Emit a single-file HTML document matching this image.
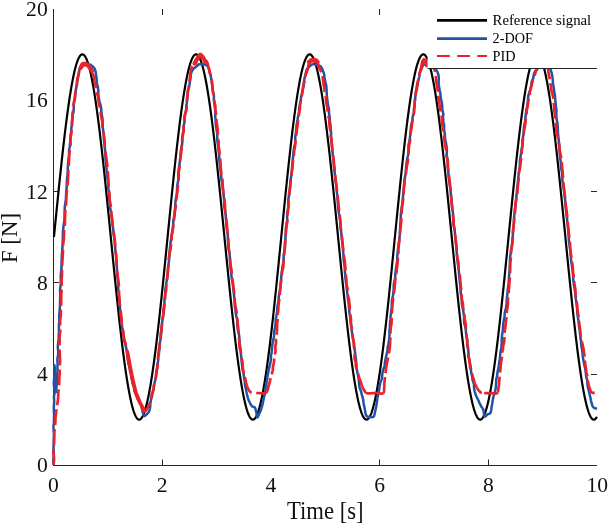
<!DOCTYPE html>
<html><head><meta charset="utf-8"><style>
html,body{margin:0;padding:0;background:#fff;}
svg{display:block;}
.tk{font-family:"Liberation Serif",serif;font-size:20px;fill:#111;}
.lb{font-family:"Liberation Serif",serif;font-size:24px;fill:#111;}
.lg{font-family:"Liberation Serif",serif;font-size:15px;fill:#000;}
</style></head><body>
<svg width="608" height="526" viewBox="0 0 608 526">
<rect width="608" height="526" fill="#fff"/>
<line x1="53.5" y1="9" x2="53.5" y2="466" stroke="#262626" stroke-width="1"/><line x1="53" y1="465.5" x2="597" y2="465.5" stroke="#262626" stroke-width="1"/><line x1="53" y1="374.5" x2="59" y2="374.5" stroke="#262626" stroke-width="1"/><line x1="591" y1="374.5" x2="597" y2="374.5" stroke="#262626" stroke-width="1"/><line x1="53" y1="282.5" x2="59" y2="282.5" stroke="#262626" stroke-width="1"/><line x1="591" y1="282.5" x2="597" y2="282.5" stroke="#262626" stroke-width="1"/><line x1="53" y1="191.5" x2="59" y2="191.5" stroke="#262626" stroke-width="1"/><line x1="591" y1="191.5" x2="597" y2="191.5" stroke="#262626" stroke-width="1"/><line x1="162.5" y1="459.5" x2="162.5" y2="465" stroke="#262626" stroke-width="1"/><line x1="162.5" y1="9" x2="162.5" y2="15" stroke="#262626" stroke-width="1"/><line x1="379.5" y1="459.5" x2="379.5" y2="465" stroke="#262626" stroke-width="1"/><line x1="379.5" y1="9" x2="379.5" y2="15" stroke="#262626" stroke-width="1"/><line x1="488.5" y1="459.5" x2="488.5" y2="465" stroke="#262626" stroke-width="1"/><line x1="488.5" y1="9" x2="488.5" y2="15" stroke="#262626" stroke-width="1"/>

<path d="M53.95,237.00 L54.45,231.95 L54.95,226.91 L55.45,221.87 L55.95,216.85 L56.45,211.84 L56.95,206.85 L57.45,201.88 L57.95,196.94 L58.45,192.03 L58.95,187.15 L59.45,182.32 L59.95,177.52 L60.45,172.77 L60.95,168.07 L61.45,163.42 L61.95,158.83 L62.45,154.30 L62.95,149.83 L63.45,145.43 L63.95,141.09 L64.45,136.83 L64.95,132.65 L65.45,128.55 L65.95,124.53 L66.45,120.59 L66.95,116.75 L67.45,112.99 L67.95,109.33 L68.45,105.77 L68.95,102.31 L69.45,98.95 L69.95,95.70 L70.45,92.56 L70.95,89.52 L71.45,86.60 L71.95,83.80 L72.45,81.11 L72.95,78.54 L73.45,76.09 L73.95,73.76 L74.45,71.56 L74.95,69.48 L75.45,67.54 L75.95,65.72 L76.45,64.03 L76.95,62.48 L77.45,61.05 L77.95,59.77 L78.45,58.62 L78.95,57.60 L79.45,56.72 L79.95,55.98 L80.45,55.38 L80.95,54.92 L81.45,54.59 L81.95,54.41 L82.45,54.36 L82.95,54.46 L83.45,54.69 L83.95,55.06 L84.45,55.57 L84.95,56.23 L85.45,57.01 L85.95,57.94 L86.45,59.00 L86.95,60.20 L87.45,61.54 L87.95,63.01 L88.45,64.61 L88.95,66.34 L89.45,68.20 L89.95,70.19 L90.45,72.31 L90.95,74.56 L91.45,76.93 L91.95,79.42 L92.45,82.03 L92.95,84.76 L93.45,87.61 L93.95,90.57 L94.45,93.65 L94.95,96.83 L95.45,100.12 L95.95,103.51 L96.45,107.01 L96.95,110.60 L97.45,114.30 L97.95,118.08 L98.45,121.96 L98.95,125.92 L99.45,129.97 L99.95,134.11 L100.45,138.32 L100.95,142.60 L101.45,146.96 L101.95,151.38 L102.45,155.88 L102.95,160.43 L103.45,165.04 L103.95,169.71 L104.45,174.43 L104.95,179.19 L105.45,184.01 L105.95,188.86 L106.45,193.74 L106.95,198.66 L107.45,203.62 L107.95,208.59 L108.45,213.59 L108.95,218.60 L109.45,223.63 L109.95,228.67 L110.45,233.72 L110.95,238.77 L111.45,243.81 L111.95,248.86 L112.45,253.89 L112.95,258.91 L113.45,263.91 L113.95,268.89 L114.45,273.85 L114.95,278.78 L115.45,283.68 L115.95,288.54 L116.45,293.37 L116.95,298.15 L117.45,302.88 L117.95,307.56 L118.45,312.19 L118.95,316.76 L119.45,321.27 L119.95,325.72 L120.45,330.10 L120.95,334.41 L121.45,338.64 L121.95,342.80 L122.45,346.87 L122.95,350.86 L123.45,354.76 L123.95,358.58 L124.45,362.30 L124.95,365.92 L125.45,369.45 L125.95,372.87 L126.45,376.20 L126.95,379.41 L127.45,382.52 L127.95,385.51 L128.45,388.39 L128.95,391.16 L129.45,393.81 L129.95,396.34 L130.45,398.74 L130.95,401.03 L131.45,403.18 L131.95,405.21 L132.45,407.12 L132.95,408.89 L133.45,410.53 L133.95,412.04 L134.45,413.41 L134.95,414.65 L135.45,415.75 L135.95,416.72 L136.45,417.55 L136.95,418.24 L137.45,418.80 L137.95,419.21 L138.45,419.49 L138.95,419.62 L139.45,419.62 L139.95,419.48 L140.45,419.20 L140.95,418.77 L141.45,418.21 L141.95,417.51 L142.45,416.68 L142.95,415.70 L143.45,414.59 L143.95,413.35 L144.45,411.96 L144.95,410.45 L145.45,408.80 L145.95,407.02 L146.45,405.11 L146.95,403.08 L147.45,400.91 L147.95,398.62 L148.45,396.21 L148.95,393.68 L149.45,391.02 L149.95,388.25 L150.45,385.36 L150.95,382.36 L151.45,379.25 L151.95,376.03 L152.45,372.71 L152.95,369.28 L153.45,365.74 L153.95,362.11 L154.45,358.39 L154.95,354.57 L155.45,350.66 L155.95,346.67 L156.45,342.59 L156.95,338.43 L157.45,334.19 L157.95,329.88 L158.45,325.50 L158.95,321.05 L159.45,316.54 L159.95,311.96 L160.45,307.33 L160.95,302.64 L161.45,297.91 L161.95,293.13 L162.45,288.30 L162.95,283.44 L163.45,278.54 L163.95,273.61 L164.45,268.65 L164.95,263.66 L165.45,258.66 L165.95,253.64 L166.45,248.60 L166.95,243.56 L167.45,238.51 L167.95,233.47 L168.45,228.42 L168.95,223.38 L169.45,218.35 L169.95,213.34 L170.45,208.34 L170.95,203.37 L171.45,198.42 L171.95,193.50 L172.45,188.61 L172.95,183.76 L173.45,178.96 L173.95,174.19 L174.45,169.47 L174.95,164.81 L175.45,160.20 L175.95,155.65 L176.45,151.16 L176.95,146.74 L177.45,142.38 L177.95,138.10 L178.45,133.90 L178.95,129.77 L179.45,125.72 L179.95,121.76 L180.45,117.89 L180.95,114.11 L181.45,110.42 L181.95,106.83 L182.45,103.34 L182.95,99.95 L183.45,96.67 L183.95,93.49 L184.45,90.42 L184.95,87.47 L185.45,84.63 L185.95,81.90 L186.45,79.29 L186.95,76.81 L187.45,74.44 L187.95,72.21 L188.45,70.09 L188.95,68.11 L189.45,66.25 L189.95,64.52 L190.45,62.93 L190.95,61.47 L191.45,60.14 L191.95,58.95 L192.45,57.89 L192.95,56.97 L193.45,56.19 L193.95,55.55 L194.45,55.04 L194.95,54.68 L195.45,54.45 L195.95,54.36 L196.45,54.41 L196.95,54.61 L197.45,54.94 L197.95,55.41 L198.45,56.02 L198.95,56.76 L199.45,57.65 L199.95,58.67 L200.45,59.83 L200.95,61.12 L201.45,62.55 L201.95,64.11 L202.45,65.81 L202.95,67.63 L203.45,69.58 L203.95,71.67 L204.45,73.87 L204.95,76.21 L205.45,78.66 L205.95,81.24 L206.45,83.93 L206.95,86.75 L207.45,89.67 L207.95,92.71 L208.45,95.86 L208.95,99.12 L209.45,102.48 L209.95,105.95 L210.45,109.52 L210.95,113.18 L211.45,116.94 L211.95,120.79 L212.45,124.73 L212.95,128.75 L213.45,132.86 L213.95,137.04 L214.45,141.31 L214.95,145.64 L215.45,150.05 L215.95,154.52 L216.45,159.06 L216.95,163.65 L217.45,168.30 L217.95,173.01 L218.45,177.76 L218.95,182.56 L219.45,187.40 L219.95,192.27 L220.45,197.19 L220.95,202.13 L221.45,207.10 L221.95,212.09 L222.45,217.10 L222.95,222.12 L223.45,227.16 L223.95,232.20 L224.45,237.25 L224.95,242.30 L225.45,247.34 L225.95,252.38 L226.45,257.40 L226.95,262.41 L227.45,267.40 L227.95,272.37 L228.45,277.31 L228.95,282.22 L229.45,287.09 L229.95,291.92 L230.45,296.72 L230.95,301.47 L231.45,306.16 L231.95,310.81 L232.45,315.40 L232.95,319.93 L233.45,324.39 L233.95,328.79 L234.45,333.12 L234.95,337.38 L235.45,341.56 L235.95,345.66 L236.45,349.67 L236.95,353.60 L237.45,357.44 L237.95,361.19 L238.45,364.85 L238.95,368.40 L239.45,371.86 L239.95,375.21 L240.45,378.46 L240.95,381.60 L241.45,384.63 L241.95,387.54 L242.45,390.34 L242.95,393.03 L243.45,395.59 L243.95,398.03 L244.45,400.35 L244.95,402.55 L245.45,404.62 L245.95,406.56 L246.45,408.37 L246.95,410.05 L247.45,411.60 L247.95,413.01 L248.45,414.29 L248.95,415.44 L249.45,416.45 L249.95,417.32 L250.45,418.05 L250.95,418.65 L251.45,419.10 L251.95,419.42 L252.45,419.60 L252.95,419.64 L253.45,419.54 L253.95,419.29 L254.45,418.91 L254.95,418.40 L255.45,417.74 L255.95,416.94 L256.45,416.01 L256.95,414.94 L257.45,413.73 L257.95,412.39 L258.45,410.92 L258.95,409.31 L259.45,407.57 L259.95,405.70 L260.45,403.70 L260.95,401.58 L261.45,399.32 L261.95,396.95 L262.45,394.45 L262.95,391.83 L263.45,389.10 L263.95,386.24 L264.45,383.28 L264.95,380.20 L265.45,377.01 L265.95,373.71 L266.45,370.31 L266.95,366.81 L267.45,363.21 L267.95,359.52 L268.45,355.73 L268.95,351.84 L269.45,347.88 L269.95,343.82 L270.45,339.69 L270.95,335.47 L271.45,331.18 L271.95,326.82 L272.45,322.39 L272.95,317.90 L273.45,313.34 L273.95,308.73 L274.45,304.06 L274.95,299.33 L275.45,294.57 L275.95,289.75 L276.45,284.90 L276.95,280.01 L277.45,275.09 L277.95,270.14 L278.45,265.16 L278.95,260.16 L279.45,255.15 L279.95,250.12 L280.45,245.08 L280.95,240.03 L281.45,234.98 L281.95,229.93 L282.45,224.89 L282.95,219.86 L283.45,214.84 L283.95,209.84 L284.45,204.86 L284.95,199.90 L285.45,194.97 L285.95,190.07 L286.45,185.21 L286.95,180.39 L287.45,175.62 L287.95,170.88 L288.45,166.20 L288.95,161.58 L289.45,157.01 L289.95,152.50 L290.45,148.06 L290.95,143.68 L291.45,139.38 L291.95,135.15 L292.45,131.00 L292.95,126.93 L293.45,122.94 L293.95,119.04 L294.45,115.23 L294.95,111.52 L295.45,107.90 L295.95,104.38 L296.45,100.96 L296.95,97.64 L297.45,94.43 L297.95,91.33 L298.45,88.34 L298.95,85.47 L299.45,82.71 L299.95,80.06 L300.45,77.54 L300.95,75.14 L301.45,72.86 L301.95,70.71 L302.45,68.69 L302.95,66.79 L303.45,65.03 L303.95,63.39 L304.45,61.89 L304.95,60.52 L305.45,59.29 L305.95,58.19 L306.45,57.23 L306.95,56.41 L307.45,55.72 L307.95,55.18 L308.45,54.77 L308.95,54.50 L309.45,54.37 L309.95,54.38 L310.45,54.53 L310.95,54.82 L311.45,55.25 L311.95,55.82 L312.45,56.52 L312.95,57.37 L313.45,58.35 L313.95,59.47 L314.45,60.72 L314.95,62.11 L315.45,63.63 L315.95,65.28 L316.45,67.07 L316.95,68.98 L317.45,71.03 L317.95,73.20 L318.45,75.49 L318.95,77.91 L319.45,80.45 L319.95,83.11 L320.45,85.89 L320.95,88.78 L321.45,91.79 L321.95,94.91 L322.45,98.13 L322.95,101.46 L323.45,104.90 L323.95,108.44 L324.45,112.07 L324.95,115.80 L325.45,119.62 L325.95,123.54 L326.45,127.53 L326.95,131.62 L327.45,135.78 L327.95,140.02 L328.45,144.34 L328.95,148.72 L329.45,153.17 L329.95,157.69 L330.45,162.27 L330.95,166.90 L331.45,171.59 L331.95,176.33 L332.45,181.11 L332.95,185.94 L333.45,190.81 L333.95,195.71 L334.45,200.64 L334.95,205.60 L335.45,210.59 L335.95,215.59 L336.45,220.61 L336.95,225.65 L337.45,230.69 L337.95,235.74 L338.45,240.79 L338.95,245.83 L339.45,250.87 L339.95,255.90 L340.45,260.91 L340.95,265.91 L341.45,270.88 L341.95,275.83 L342.45,280.75 L342.95,285.63 L343.45,290.48 L343.95,295.28 L344.45,300.05 L344.95,304.76 L345.45,309.42 L345.95,314.03 L346.45,318.58 L346.95,323.06 L347.45,327.48 L347.95,331.83 L348.45,336.11 L348.95,340.31 L349.45,344.43 L349.95,348.48 L350.45,352.43 L350.95,356.30 L351.45,360.08 L351.95,363.76 L352.45,367.35 L352.95,370.83 L353.45,374.22 L353.95,377.49 L354.45,380.67 L354.95,383.73 L355.45,386.68 L355.95,389.51 L356.45,392.23 L356.95,394.83 L357.45,397.31 L357.95,399.67 L358.45,401.90 L358.95,404.01 L359.45,405.99 L359.95,407.84 L360.45,409.56 L360.95,411.15 L361.45,412.60 L361.95,413.92 L362.45,415.11 L362.95,416.16 L363.45,417.07 L363.95,417.85 L364.45,418.48 L364.95,418.98 L365.45,419.34 L365.95,419.56 L366.45,419.64 L366.95,419.58 L367.45,419.38 L367.95,419.04 L368.45,418.57 L368.95,417.95 L369.45,417.20 L369.95,416.30 L370.45,415.27 L370.95,414.11 L371.45,412.81 L371.95,411.37 L372.45,409.81 L372.95,408.11 L373.45,406.28 L373.95,404.32 L374.45,402.23 L374.95,400.01 L375.45,397.67 L375.95,395.21 L376.45,392.63 L376.95,389.93 L377.45,387.11 L377.95,384.18 L378.45,381.13 L378.95,377.98 L379.45,374.71 L379.95,371.35 L380.45,367.87 L380.95,364.30 L381.45,360.64 L381.95,356.87 L382.45,353.02 L382.95,349.07 L383.45,345.05 L383.95,340.94 L384.45,336.74 L384.95,332.48 L385.45,328.14 L385.95,323.73 L386.45,319.25 L386.95,314.71 L387.45,310.12 L387.95,305.46 L388.45,300.76 L388.95,296.00 L389.45,291.20 L389.95,286.36 L390.45,281.48 L390.95,276.57 L391.45,271.62 L391.95,266.66 L392.45,261.66 L392.95,256.65 L393.45,251.63 L393.95,246.59 L394.45,241.54 L394.95,236.50 L395.45,231.45 L395.95,226.40 L396.45,221.37 L396.95,216.34 L397.45,211.34 L397.95,206.35 L398.45,201.38 L398.95,196.45 L399.45,191.54 L399.95,186.67 L400.45,181.84 L400.95,177.04 L401.45,172.30 L401.95,167.60 L402.45,162.96 L402.95,158.37 L403.45,153.85 L403.95,149.38 L404.45,144.99 L404.95,140.66 L405.45,136.41 L405.95,132.24 L406.45,128.14 L406.95,124.13 L407.45,120.20 L407.95,116.37 L408.45,112.62 L408.95,108.97 L409.45,105.42 L409.95,101.97 L410.45,98.62 L410.95,95.38 L411.45,92.25 L411.95,89.23 L412.45,86.32 L412.95,83.52 L413.45,80.84 L413.95,78.29 L414.45,75.85 L414.95,73.53 L415.45,71.34 L415.95,69.28 L416.45,67.35 L416.95,65.54 L417.45,63.87 L417.95,62.33 L418.45,60.92 L418.95,59.65 L419.45,58.51 L419.95,57.51 L420.45,56.64 L420.95,55.92 L421.45,55.33 L421.95,54.88 L422.45,54.57 L422.95,54.40 L423.45,54.37 L423.95,54.47 L424.45,54.72 L424.95,55.11 L425.45,55.63 L425.95,56.30 L426.45,57.10 L426.95,58.04 L427.45,59.12 L427.95,60.33 L428.45,61.68 L428.95,63.16 L429.45,64.77 L429.95,66.52 L430.45,68.40 L430.95,70.40 L431.45,72.53 L431.95,74.79 L432.45,77.17 L432.95,79.68 L433.45,82.30 L433.95,85.04 L434.45,87.90 L434.95,90.88 L435.45,93.96 L435.95,97.15 L436.45,100.45 L436.95,103.86 L437.45,107.36 L437.95,110.97 L438.45,114.67 L438.95,118.47 L439.45,122.35 L439.95,126.33 L440.45,130.38 L440.95,134.52 L441.45,138.74 L441.95,143.03 L442.45,147.40 L442.95,151.83 L443.45,156.33 L443.95,160.89 L444.45,165.51 L444.95,170.18 L445.45,174.90 L445.95,179.67 L446.45,184.49 L446.95,189.34 L447.45,194.23 L447.95,199.16 L448.45,204.11 L448.95,209.09 L449.45,214.09 L449.95,219.11 L450.45,224.14 L450.95,229.18 L451.45,234.22 L451.95,239.27 L452.45,244.32 L452.95,249.36 L453.45,254.39 L453.95,259.41 L454.45,264.41 L454.95,269.39 L455.45,274.35 L455.95,279.27 L456.45,284.17 L456.95,289.03 L457.45,293.85 L457.95,298.62 L458.45,303.35 L458.95,308.03 L459.45,312.65 L459.95,317.22 L460.45,321.72 L460.95,326.16 L461.45,330.53 L461.95,334.83 L462.45,339.06 L462.95,343.21 L463.45,347.27 L463.95,351.25 L464.45,355.15 L464.95,358.95 L465.45,362.66 L465.95,366.28 L466.45,369.80 L466.95,373.21 L467.45,376.52 L467.95,379.73 L468.45,382.82 L468.95,385.81 L469.45,388.68 L469.95,391.43 L470.45,394.07 L470.95,396.58 L471.45,398.98 L471.95,401.25 L472.45,403.39 L472.95,405.41 L473.45,407.30 L473.95,409.06 L474.45,410.69 L474.95,412.18 L475.45,413.54 L475.95,414.77 L476.45,415.86 L476.95,416.81 L477.45,417.63 L477.95,418.31 L478.45,418.85 L478.95,419.25 L479.45,419.51 L479.95,419.63 L480.45,419.61 L480.95,419.46 L481.45,419.16 L481.95,418.72 L482.45,418.15 L482.95,417.44 L483.45,416.59 L483.95,415.60 L484.45,414.47 L484.95,413.21 L485.45,411.82 L485.95,410.29 L486.45,408.63 L486.95,406.84 L487.45,404.92 L487.95,402.87 L488.45,400.69 L488.95,398.39 L489.45,395.96 L489.95,393.42 L490.45,390.75 L490.95,387.97 L491.45,385.07 L491.95,382.06 L492.45,378.94 L492.95,375.70 L493.45,372.37 L493.95,368.93 L494.45,365.39 L494.95,361.75 L495.45,358.01 L495.95,354.18 L496.45,350.27 L496.95,346.26 L497.45,342.18 L497.95,338.01 L498.45,333.77 L498.95,329.45 L499.45,325.06 L499.95,320.60 L500.45,316.08 L500.95,311.50 L501.45,306.86 L501.95,302.17 L502.45,297.43 L502.95,292.65 L503.45,287.82 L503.95,282.95 L504.45,278.05 L504.95,273.11 L505.45,268.15 L505.95,263.16 L506.45,258.16 L506.95,253.13 L507.45,248.10 L507.95,243.06 L508.45,238.01 L508.95,232.96 L509.45,227.92 L509.95,222.88 L510.45,217.85 L510.95,212.84 L511.45,207.84 L511.95,202.87 L512.45,197.92 L512.95,193.01 L513.45,188.13 L513.95,183.28 L514.45,178.48 L514.95,173.72 L515.45,169.01 L515.95,164.35 L516.45,159.74 L516.95,155.20 L517.45,150.72 L517.95,146.30 L518.45,141.95 L518.95,137.68 L519.45,133.48 L519.95,129.36 L520.45,125.32 L520.95,121.37 L521.45,117.51 L521.95,113.74 L522.45,110.06 L522.95,106.48 L523.45,103.00 L523.95,99.62 L524.45,96.34 L524.95,93.18 L525.45,90.12 L525.95,87.18 L526.45,84.35 L526.95,81.63 L527.45,79.04 L527.95,76.57 L528.45,74.22 L528.95,71.99 L529.45,69.89 L529.95,67.91 L530.45,66.07 L530.95,64.36 L531.45,62.78 L531.95,61.33 L532.45,60.01 L532.95,58.84 L533.45,57.79 L533.95,56.89 L534.45,56.12 L534.95,55.49 L535.45,55.00 L535.95,54.65 L536.45,54.43 L536.95,54.36 L537.45,54.43 L537.95,54.63 L538.45,54.98 L538.95,55.46 L539.45,56.08 L539.95,56.85 L540.45,57.74 L540.95,58.78 L541.45,59.95 L541.95,61.26 L542.45,62.70 L542.95,64.28 L543.45,65.98 L543.95,67.82 L544.45,69.79 L544.95,71.88 L545.45,74.10 L545.95,76.45 L546.45,78.91 L546.95,81.50 L547.45,84.21 L547.95,87.03 L548.45,89.97 L548.95,93.02 L549.45,96.18 L549.95,99.45 L550.45,102.83 L550.95,106.30 L551.45,109.88 L551.95,113.55 L552.45,117.32 L552.95,121.18 L553.45,125.12 L553.95,129.16 L554.45,133.27 L554.95,137.47 L555.45,141.74 L555.95,146.08 L556.45,150.49 L556.95,154.97 L557.45,159.51 L557.95,164.12 L558.45,168.77 L558.95,173.48 L559.45,178.24 L559.95,183.04 L560.45,187.88 L560.95,192.76 L561.45,197.68 L561.95,202.62 L562.45,207.59 L562.95,212.59 L563.45,217.60 L563.95,222.63 L564.45,227.66 L564.95,232.71 L565.45,237.76 L565.95,242.80 L566.45,247.85 L566.95,252.88 L567.45,257.91 L567.95,262.91 L568.45,267.90 L568.95,272.86 L569.45,277.80 L569.95,282.70 L570.45,287.57 L570.95,292.41 L571.45,297.19 L571.95,301.94 L572.45,306.63 L572.95,311.27 L573.45,315.85 L573.95,320.38 L574.45,324.84 L574.95,329.23 L575.45,333.55 L575.95,337.80 L576.45,341.97 L576.95,346.06 L577.45,350.07 L577.95,353.99 L578.45,357.82 L578.95,361.56 L579.45,365.21 L579.95,368.75 L580.45,372.20 L580.95,375.54 L581.45,378.78 L581.95,381.90 L582.45,384.92 L582.95,387.83 L583.45,390.62 L583.95,393.29 L584.45,395.84 L584.95,398.27 L585.45,400.58 L585.95,402.76 L586.45,404.82 L586.95,406.75 L587.45,408.54 L587.95,410.21 L588.45,411.75 L588.95,413.15 L589.45,414.41 L589.95,415.54 L590.45,416.54 L590.95,417.40 L591.45,418.12 L591.95,418.70 L592.45,419.14 L592.95,419.44 L593.45,419.61 L593.95,419.63 L594.45,419.52 L594.95,419.26 L595.45,418.87 L595.95,418.34 L596.45,417.66 L596.95,416.86" stroke="#000" stroke-width="2.2" fill="none" stroke-linejoin="round"/>
<path d="M53.50,465.00 L53.27,460.61 L53.87,456.19 L53.71,451.76 L53.52,447.33 L53.66,442.93 L53.79,438.56 L53.98,434.25 L53.59,430.00 L53.43,426.10 L53.96,422.20 L53.97,418.31 L54.08,414.48 L53.83,410.70 L53.78,407.02 L54.11,403.44 L54.19,400.00 L53.91,397.29 L54.28,394.65 L54.56,392.08 L54.56,389.57 L54.21,387.11 L53.82,384.70 L53.84,382.33 L53.99,380.00 L54.27,377.82 L54.53,375.40 L54.76,372.90 L54.48,370.49 L54.31,368.34 L54.28,366.59 L54.29,365.43 L54.35,365.00 L54.43,365.27 L54.54,366.03 L54.68,367.17 L54.84,368.58 L54.84,370.18 L54.79,371.84 L54.81,373.49 L54.96,375.00 L55.17,377.14 L55.41,379.73 L55.60,382.54 L55.72,385.34 L55.68,387.92 L55.73,390.03 L55.84,391.47 L55.96,392.00 L56.03,391.81 L56.11,391.30 L56.19,390.52 L56.27,389.54 L56.34,388.44 L56.41,387.26 L56.54,386.10 L56.66,385.00 L56.83,383.40 L56.87,381.65 L56.86,379.79 L56.82,377.85 L56.75,375.87 L56.99,373.88 L57.40,371.91 L57.53,370.00 L57.47,368.10 L57.47,366.18 L57.55,364.24 L57.54,362.31 L57.39,360.40 L57.41,358.54 L57.79,356.73 L58.14,355.00 L58.16,353.67 L58.18,352.41 L58.21,351.19 L58.08,350.00 L57.95,348.81 L57.81,347.59 L57.84,346.33 L57.96,345.00 L58.11,343.32 L58.31,341.63 L58.51,339.91 L58.63,338.14 L58.68,336.29 L58.78,334.33 L58.96,332.24 L58.96,330.00 L58.90,325.92 L59.28,321.35 L59.18,316.41 L59.55,311.20 L60.04,305.84 L60.05,300.45 L60.25,295.13 L60.04,290.00 L60.65,285.03 L60.82,280.10 L60.73,275.19 L61.30,270.28 L61.61,265.32 L61.63,260.31 L61.87,255.21 L62.28,250.00 L62.61,244.02 L62.85,237.89 L62.94,231.66 L63.62,225.35 L64.58,218.99 L64.58,212.63 L64.84,206.29 L65.86,200.00 L66.11,193.55 L66.68,186.81 L66.91,179.96 L67.65,173.17 L67.85,166.61 L68.37,160.44 L69.10,154.85 L69.01,150.00 L69.60,147.70 L69.82,145.63 L69.99,143.73 L70.16,141.95 L70.33,140.24 L70.46,138.54 L70.57,136.81 L70.72,135.00 L70.96,133.13 L71.20,131.27 L71.32,129.41 L71.44,127.56 L71.71,125.69 L71.98,123.82 L72.17,121.92 L72.34,120.00 L72.42,117.91 L72.47,115.77 L73.06,113.60 L73.61,111.42 L73.68,109.25 L73.75,107.11 L73.80,105.02 L73.98,103.00 L74.31,101.29 L74.63,99.63 L74.85,97.99 L75.06,96.39 L75.26,94.80 L75.44,93.21 L75.63,91.61 L75.87,90.00 L76.10,88.35 L76.39,86.67 L76.70,84.98 L77.00,83.30 L77.28,81.64 L77.56,80.02 L77.83,78.47 L78.10,77.00 L78.32,75.88 L78.49,74.77 L78.67,73.69 L78.85,72.64 L79.02,71.64 L79.19,70.69 L79.40,69.81 L79.64,69.00 L79.85,68.46 L80.14,67.95 L80.45,67.46 L80.78,67.01 L81.12,66.59 L81.48,66.20 L81.85,65.83 L82.24,65.50 L82.60,65.23 L82.95,64.98 L83.32,64.75 L83.70,64.54 L84.09,64.36 L84.47,64.21 L84.85,64.09 L85.22,64.00 L85.54,63.96 L85.85,63.95 L86.17,63.96 L86.51,64.00 L86.85,64.05 L87.19,64.10 L87.52,64.15 L87.85,64.20 L88.14,64.23 L88.41,64.26 L88.69,64.29 L88.96,64.32 L89.23,64.37 L89.49,64.42 L89.76,64.50 L90.04,64.60 L90.38,64.76 L90.73,64.95 L91.08,65.17 L91.42,65.41 L91.77,65.67 L92.10,65.94 L92.43,66.22 L92.75,66.50 L93.07,66.79 L93.38,67.09 L93.68,67.38 L93.95,67.70 L94.20,68.03 L94.45,68.41 L94.68,68.83 L94.89,69.30 L95.24,70.32 L95.54,71.54 L95.79,72.91 L96.02,74.39 L96.23,75.94 L96.44,77.52 L96.63,79.09 L96.66,80.60 L96.71,82.19 L97.01,83.78 L97.46,85.39 L97.87,87.01 L98.05,88.67 L98.23,90.36 L98.29,92.10 L98.33,93.90 L98.58,96.16 L98.95,98.45 L99.37,100.81 L99.92,103.22 L100.78,105.72 L101.13,108.31 L101.28,111.00 L101.57,113.80 L102.39,117.76 L102.65,121.95 L102.76,126.32 L103.23,130.86 L103.78,135.52 L103.96,140.29 L104.66,145.12 L104.98,150.00 L105.41,155.85 L105.65,161.88 L106.50,168.06 L106.86,174.35 L107.83,180.73 L108.26,187.15 L109.00,193.58 L109.54,200.00 L109.93,206.79 L111.32,213.70 L112.04,220.68 L112.99,227.68 L113.64,234.66 L114.85,241.57 L115.17,248.37 L116.06,255.00 L116.55,260.90 L116.86,266.77 L117.07,272.60 L117.61,278.35 L118.40,283.99 L118.22,289.50 L118.94,294.84 L119.37,300.00 L119.87,304.09 L120.01,308.08 L120.21,311.97 L120.44,315.77 L121.16,319.47 L121.69,323.08 L121.91,326.59 L122.91,330.00 L123.41,332.72 L123.69,335.37 L123.91,337.96 L124.15,340.47 L124.82,342.93 L125.64,345.34 L126.15,347.69 L126.57,350.00 L126.81,351.89 L127.06,353.70 L127.33,355.47 L127.60,357.20 L127.89,358.92 L128.18,360.65 L128.52,362.40 L128.87,364.20 L129.21,366.18 L129.55,368.20 L130.10,370.25 L130.73,372.30 L131.09,374.35 L131.40,376.38 L131.71,378.37 L132.03,380.30 L132.37,382.00 L132.71,383.68 L133.20,385.34 L133.78,386.97 L134.31,388.58 L134.59,390.15 L134.89,391.69 L135.37,393.20 L135.88,394.51 L136.43,395.80 L136.89,397.07 L137.36,398.31 L137.83,399.52 L138.50,400.71 L139.17,401.87 L139.80,403.00 L140.24,403.94 L140.64,404.84 L141.04,405.73 L141.43,406.60 L141.69,407.46 L141.88,408.31 L142.04,409.15 L142.20,410.00 L142.35,410.84 L142.62,411.77 L142.88,412.73 L143.13,413.67 L143.38,414.52 L143.64,415.23 L143.94,415.75 L144.28,416.00 L144.56,416.01 L144.87,415.90 L145.21,415.69 L145.55,415.40 L145.90,415.07 L146.26,414.71 L146.65,414.34 L147.00,414.00 L147.40,413.60 L147.79,413.16 L148.17,412.70 L148.53,412.22 L148.89,411.70 L149.15,411.16 L149.36,410.59 L149.56,410.00 L149.79,409.15 L149.99,408.22 L150.12,407.24 L150.20,406.21 L150.27,405.16 L150.33,404.10 L150.45,403.04 L150.60,402.00 L150.77,400.94 L150.93,399.89 L151.23,398.85 L151.53,397.79 L151.83,396.71 L152.13,395.60 L152.38,394.43 L152.66,393.20 L153.07,391.41 L153.49,389.49 L153.86,387.48 L154.00,385.40 L154.37,383.29 L155.06,381.16 L155.52,379.06 L155.80,377.00 L156.05,375.00 L156.29,373.00 L156.73,371.00 L157.26,369.01 L157.38,367.01 L157.33,365.01 L157.66,363.01 L158.14,361.00 L158.23,358.99 L158.17,357.00 L158.33,355.01 L158.57,353.01 L159.02,351.00 L159.56,348.97 L159.59,346.90 L159.48,344.80 L159.97,342.44 L160.46,340.04 L160.65,337.62 L160.99,335.17 L161.42,332.68 L161.45,330.16 L161.58,327.60 L161.86,325.00 L162.15,322.06 L162.67,319.13 L163.27,316.16 L163.42,313.14 L163.94,310.04 L164.35,306.83 L164.45,303.49 L164.45,300.00 L165.08,295.03 L165.36,289.78 L166.05,284.28 L167.19,278.60 L167.77,272.78 L168.10,266.87 L168.99,260.93 L169.38,255.00 L169.89,248.37 L170.75,241.57 L171.99,234.66 L172.91,227.68 L173.44,220.68 L174.70,213.70 L175.18,206.79 L175.64,200.00 L177.03,193.48 L177.08,186.81 L178.27,180.09 L178.31,173.44 L179.02,167.00 L179.97,160.86 L180.55,155.15 L180.92,150.00 L181.59,147.06 L182.07,144.35 L182.35,141.81 L182.33,139.39 L182.41,137.05 L182.69,134.74 L183.05,132.40 L183.47,130.00 L183.57,127.63 L183.79,125.27 L184.36,122.91 L184.56,120.57 L184.51,118.24 L184.73,115.93 L185.06,113.65 L185.83,111.40 L186.28,109.33 L186.22,107.26 L186.35,105.20 L186.74,103.17 L187.04,101.17 L187.22,99.22 L187.40,97.33 L187.57,95.50 L187.70,94.07 L187.78,92.68 L187.85,91.34 L187.97,90.02 L188.36,88.73 L188.77,87.45 L189.18,86.17 L189.39,84.90 L189.60,83.69 L189.81,82.48 L190.01,81.27 L190.23,80.07 L190.45,78.90 L190.58,77.76 L190.62,76.65 L190.68,75.60 L190.75,74.76 L190.92,73.94 L191.18,73.14 L191.45,72.36 L191.73,71.62 L192.05,70.90 L192.42,70.23 L192.85,69.60 L193.26,69.10 L193.71,68.63 L194.19,68.19 L194.69,67.78 L195.19,67.39 L195.67,67.01 L196.13,66.65 L196.56,66.30 L196.86,66.04 L197.13,65.77 L197.40,65.51 L197.66,65.27 L197.92,65.04 L198.19,64.83 L198.42,64.65 L198.67,64.50 L198.94,64.39 L199.23,64.31 L199.53,64.25 L199.83,64.22 L200.15,64.21 L200.46,64.20 L200.78,64.20 L201.10,64.20 L201.46,64.20 L201.85,64.19 L202.28,64.20 L202.71,64.22 L203.15,64.25 L203.58,64.30 L204.01,64.39 L204.43,64.50 L204.88,64.65 L205.33,64.82 L205.78,65.02 L206.21,65.24 L206.63,65.50 L207.03,65.79 L207.41,66.12 L207.75,66.50 L208.16,67.09 L208.52,67.78 L208.76,68.54 L208.96,69.37 L209.14,70.24 L209.31,71.15 L209.56,72.07 L209.88,73.00 L210.28,74.18 L210.67,75.41 L210.89,76.70 L211.10,78.02 L211.30,79.37 L211.54,80.74 L211.76,82.12 L211.96,83.50 L212.13,85.00 L212.27,86.53 L212.47,88.07 L212.71,89.63 L212.94,91.21 L213.35,92.80 L213.76,94.39 L213.93,96.00 L213.90,97.69 L213.90,99.38 L214.14,101.08 L214.38,102.79 L214.55,104.53 L214.71,106.31 L214.94,108.12 L215.22,110.00 L215.34,112.33 L215.23,114.75 L215.34,117.24 L215.50,119.78 L215.71,122.34 L215.91,124.92 L216.17,127.48 L216.69,130.00 L217.05,132.44 L217.30,134.79 L217.24,137.11 L217.23,139.44 L217.49,141.84 L217.83,144.37 L218.23,147.07 L218.56,150.00 L219.12,155.16 L219.35,160.86 L220.13,167.00 L221.00,173.44 L221.45,180.08 L222.69,186.80 L223.44,193.48 L224.11,200.00 L224.40,206.79 L225.59,213.69 L226.10,220.67 L226.59,227.68 L227.82,234.66 L227.99,241.58 L228.56,248.37 L229.69,255.00 L230.18,260.93 L230.42,266.88 L231.14,272.79 L231.78,278.61 L232.83,284.29 L233.48,289.78 L234.01,295.04 L234.50,300.00 L234.73,303.48 L234.89,306.77 L235.48,309.92 L235.70,312.97 L236.28,315.96 L236.91,318.93 L237.26,321.93 L237.36,325.00 L237.56,328.11 L238.15,331.26 L239.01,334.41 L239.27,337.55 L239.45,340.67 L239.74,343.74 L240.16,346.76 L240.72,349.70 L240.79,352.23 L240.94,354.69 L241.19,357.11 L241.44,359.50 L241.70,361.87 L241.96,364.23 L242.19,366.60 L242.40,369.00 L243.00,371.45 L243.63,373.95 L243.88,376.45 L244.27,378.96 L244.76,381.42 L244.90,383.84 L245.21,386.17 L245.81,388.40 L246.20,390.19 L246.50,391.97 L246.84,393.73 L247.24,395.43 L247.66,397.06 L248.13,398.60 L248.61,400.02 L249.14,401.30 L249.52,402.05 L249.88,402.76 L250.24,403.44 L250.60,404.08 L250.95,404.66 L251.20,405.20 L251.49,405.68 L251.82,406.10 L252.13,406.36 L252.50,406.55 L252.89,406.69 L253.29,406.79 L253.70,406.90 L254.12,407.04 L254.49,407.23 L254.81,407.50 L255.10,407.91 L255.32,408.40 L255.50,408.94 L255.63,409.53 L255.76,410.14 L255.90,410.77 L256.05,411.39 L256.21,412.00 L256.40,412.73 L256.57,413.58 L256.65,414.48 L256.69,415.37 L256.75,416.18 L256.84,416.85 L256.98,417.31 L257.18,417.50 L257.46,417.35 L257.80,416.89 L258.17,416.17 L258.55,415.26 L258.94,414.22 L259.47,413.12 L260.02,412.03 L260.53,411.00 L261.09,409.62 L261.51,408.14 L261.92,406.57 L262.36,404.93 L262.80,403.24 L263.15,401.51 L263.43,399.76 L263.78,398.00 L264.32,395.93 L264.82,393.79 L265.24,391.60 L265.50,389.38 L265.63,387.12 L266.09,384.85 L266.60,382.57 L266.99,380.30 L267.34,377.92 L267.63,375.50 L268.10,373.05 L268.63,370.60 L269.13,368.15 L269.68,365.73 L270.27,363.34 L270.67,361.00 L270.97,358.93 L270.99,356.92 L271.06,354.95 L271.52,352.99 L271.93,351.02 L271.94,349.01 L272.00,346.95 L272.31,344.80 L272.79,342.13 L273.41,339.37 L274.00,336.52 L274.15,333.62 L274.24,330.69 L274.99,327.76 L275.46,324.86 L275.65,322.00 L275.69,319.28 L276.25,316.65 L276.73,314.06 L277.14,311.46 L277.19,308.80 L277.53,306.04 L278.09,303.12 L278.51,300.00 L279.04,295.17 L279.96,289.98 L280.76,284.50 L281.09,278.78 L281.65,272.91 L282.46,266.95 L283.54,260.96 L283.74,255.00 L284.84,248.38 L285.18,241.58 L285.65,234.67 L285.97,227.68 L287.10,220.68 L287.24,213.69 L288.27,206.78 L288.21,200.00 L289.43,193.49 L290.00,186.85 L290.53,180.18 L291.72,173.58 L292.05,167.16 L292.73,161.02 L293.15,155.26 L293.73,150.00 L294.32,146.82 L295.05,143.85 L295.38,141.06 L295.26,138.39 L295.29,135.80 L295.86,133.23 L296.16,130.65 L296.37,128.00 L296.57,125.36 L297.00,122.69 L297.48,120.01 L297.87,117.36 L298.52,114.75 L299.05,112.22 L299.04,109.80 L299.31,107.50 L299.65,105.84 L299.99,104.26 L300.32,102.73 L300.65,101.25 L300.80,99.80 L300.90,98.37 L301.03,96.94 L301.48,95.50 L301.91,94.14 L302.29,92.79 L302.52,91.45 L302.75,90.11 L303.01,88.79 L303.31,87.49 L303.62,86.19 L303.85,84.90 L303.89,83.69 L303.93,82.48 L303.96,81.28 L304.19,80.08 L304.41,78.91 L304.65,77.77 L304.92,76.66 L305.21,75.60 L305.45,74.76 L305.67,73.93 L305.85,73.12 L305.98,72.33 L306.13,71.57 L306.31,70.84 L306.52,70.15 L306.81,69.50 L307.15,68.98 L307.53,68.48 L307.93,68.00 L308.35,67.55 L308.79,67.12 L309.24,66.72 L309.65,66.35 L310.02,66.00 L310.34,65.71 L310.66,65.43 L310.99,65.17 L311.33,64.93 L311.68,64.71 L312.03,64.53 L312.39,64.39 L312.80,64.30 L313.26,64.27 L313.73,64.29 L314.20,64.36 L314.69,64.46 L315.18,64.59 L315.67,64.73 L316.16,64.87 L316.65,65.00 L317.15,65.12 L317.67,65.22 L318.18,65.32 L318.70,65.44 L319.20,65.58 L319.69,65.77 L320.14,66.00 L320.56,66.30 L321.00,66.75 L321.39,67.28 L321.73,67.88 L322.05,68.54 L322.34,69.25 L322.63,70.01 L322.93,70.79 L323.25,71.60 L323.70,72.84 L324.06,74.22 L324.28,75.69 L324.48,77.22 L324.77,78.80 L325.06,80.39 L325.37,81.97 L325.76,83.50 L326.11,84.98 L326.31,86.46 L326.44,87.94 L326.54,89.42 L326.61,90.91 L326.68,92.42 L326.76,93.95 L326.87,95.50 L327.02,97.23 L327.23,98.97 L327.45,100.73 L327.65,102.52 L327.85,104.33 L328.23,106.18 L328.77,108.06 L329.05,110.00 L328.92,112.34 L329.23,114.77 L329.76,117.26 L329.83,119.80 L330.07,122.36 L330.50,124.92 L330.60,127.48 L330.78,130.00 L331.11,132.44 L331.04,134.79 L330.82,137.11 L331.23,139.44 L331.60,141.84 L331.89,144.37 L332.05,147.07 L332.27,150.00 L332.86,155.16 L333.55,160.86 L333.93,167.00 L334.80,173.44 L335.47,180.09 L336.51,186.80 L337.03,193.48 L337.64,200.00 L338.05,206.79 L339.01,213.69 L340.20,220.67 L340.66,227.68 L341.50,234.66 L342.23,241.58 L342.93,248.37 L343.45,255.00 L343.75,260.93 L344.64,266.88 L344.99,272.78 L345.46,278.60 L346.20,284.29 L346.89,289.78 L347.51,295.04 L348.10,300.00 L348.63,303.48 L348.95,306.77 L349.19,309.92 L349.48,312.97 L350.04,315.96 L350.36,318.93 L350.73,321.93 L351.13,325.00 L351.53,328.12 L351.79,331.28 L352.32,334.46 L352.84,337.62 L353.33,340.75 L353.98,343.82 L354.29,346.81 L354.68,349.70 L355.02,352.04 L355.29,354.30 L355.56,356.49 L355.87,358.64 L356.11,360.78 L356.30,362.94 L356.49,365.14 L356.68,367.40 L356.98,369.99 L357.42,372.68 L358.07,375.44 L358.56,378.21 L358.90,380.94 L359.12,383.58 L359.34,386.08 L359.84,388.40 L360.47,389.97 L361.07,391.43 L361.38,392.81 L361.70,394.15 L362.05,395.47 L362.47,396.81 L362.88,398.21 L363.20,399.70 L363.40,401.70 L363.73,403.95 L364.26,406.33 L364.70,408.71 L365.13,410.98 L365.38,413.00 L365.77,414.65 L366.41,415.80 L366.78,416.16 L367.18,416.43 L367.60,416.63 L368.04,416.76 L368.49,416.86 L368.96,416.92 L369.46,416.96 L369.94,417.00 L370.45,417.05 L370.99,417.10 L371.53,417.14 L372.08,417.14 L372.61,417.09 L373.10,416.98 L373.47,416.79 L373.79,416.50 L374.21,415.69 L374.46,414.54 L374.75,413.12 L375.16,411.50 L375.54,409.75 L375.91,407.96 L376.30,406.18 L376.52,404.50 L376.79,402.59 L377.05,400.62 L377.31,398.60 L377.77,396.54 L378.31,394.48 L378.71,392.42 L379.09,390.39 L379.33,388.40 L379.56,386.56 L379.93,384.74 L380.33,382.94 L380.92,381.15 L381.61,379.36 L382.02,377.56 L382.16,375.75 L382.36,373.90 L382.69,371.91 L383.20,369.87 L383.98,367.81 L384.52,365.74 L384.79,363.68 L385.10,361.64 L385.43,359.64 L385.82,357.70 L386.21,356.04 L386.60,354.44 L387.00,352.88 L387.39,351.34 L387.54,349.78 L387.62,348.19 L387.81,346.54 L388.26,344.80 L388.72,342.55 L388.99,340.21 L389.25,337.79 L389.50,335.31 L389.39,332.78 L389.46,330.21 L389.85,327.61 L389.91,325.00 L390.09,322.06 L390.54,319.12 L390.52,316.16 L390.98,313.13 L391.53,310.03 L391.81,306.83 L391.72,303.49 L391.97,300.00 L393.15,295.03 L393.61,289.78 L393.79,284.28 L395.09,278.60 L395.44,272.79 L396.24,266.88 L397.20,260.93 L397.38,255.00 L398.03,248.37 L399.04,241.58 L399.78,234.67 L400.12,227.68 L400.58,220.67 L400.88,213.69 L401.94,206.78 L402.71,200.00 L403.24,193.48 L404.08,186.80 L404.46,180.08 L405.60,173.44 L406.11,166.99 L406.84,160.86 L408.06,155.16 L408.51,150.00 L408.51,147.02 L408.67,144.21 L409.31,141.54 L409.76,139.01 L410.04,136.60 L410.34,134.30 L410.63,132.11 L410.73,130.00 L410.83,128.58 L410.96,127.24 L411.11,125.97 L411.26,124.75 L411.57,123.56 L411.93,122.38 L412.29,121.20 L412.53,120.00 L412.56,118.86 L412.59,117.75 L412.64,116.66 L412.97,115.57 L413.33,114.47 L413.69,113.35 L413.93,112.20 L413.95,111.00 L413.95,109.51 L414.05,107.97 L414.31,106.38 L414.56,104.75 L414.74,103.11 L414.93,101.47 L415.08,99.82 L415.23,98.20 L415.39,96.54 L415.54,94.86 L415.69,93.16 L415.94,91.47 L416.22,89.79 L416.59,88.14 L417.08,86.54 L417.57,85.00 L417.75,83.73 L417.92,82.48 L418.10,81.26 L418.39,80.07 L418.70,78.90 L419.02,77.77 L419.28,76.67 L419.45,75.60 L419.57,74.76 L419.68,73.94 L419.80,73.14 L420.06,72.35 L420.33,71.60 L420.60,70.87 L420.88,70.17 L421.17,69.50 L421.34,69.00 L421.47,68.50 L421.61,68.03 L421.75,67.57 L421.91,67.13 L422.08,66.72 L422.27,66.34 L422.48,66.00 L422.65,65.75 L422.89,65.50 L423.13,65.27 L423.39,65.06 L423.65,64.87 L423.91,64.71 L424.19,64.59 L424.47,64.50 L424.78,64.46 L425.09,64.46 L425.42,64.50 L425.75,64.57 L426.10,64.67 L426.44,64.77 L426.79,64.89 L427.13,65.00 L427.53,65.14 L427.92,65.30 L428.32,65.48 L428.71,65.67 L429.12,65.88 L429.53,66.09 L429.95,66.30 L430.37,66.50 L430.86,66.74 L431.37,66.98 L431.90,67.24 L432.43,67.49 L432.97,67.75 L433.49,68.01 L433.98,68.26 L434.33,68.50 L434.61,68.68 L434.88,68.83 L435.15,68.98 L435.41,69.12 L435.66,69.28 L435.89,69.47 L436.10,69.71 L436.28,70.00 L436.56,70.52 L436.96,71.15 L437.33,71.86 L437.67,72.63 L437.99,73.45 L438.28,74.30 L438.44,75.15 L438.59,76.00 L438.75,77.01 L438.86,78.06 L438.80,79.12 L438.71,80.22 L438.60,81.36 L438.56,82.53 L438.65,83.74 L438.78,85.00 L439.03,86.80 L439.38,88.74 L439.79,90.79 L440.27,92.89 L440.56,94.99 L440.64,97.05 L440.95,99.00 L441.42,100.80 L441.73,102.04 L441.88,103.19 L442.03,104.27 L442.17,105.33 L442.26,106.40 L442.27,107.51 L442.28,108.70 L442.31,110.00 L442.93,112.13 L443.33,114.46 L443.06,116.94 L443.16,119.52 L443.51,122.16 L444.05,124.82 L444.17,127.45 L444.12,130.00 L444.55,132.44 L444.83,134.79 L444.94,137.10 L445.29,139.44 L445.73,141.84 L446.22,144.37 L446.63,147.07 L446.89,150.00 L446.69,155.17 L447.83,160.92 L447.88,167.10 L448.46,173.59 L449.01,180.26 L450.20,186.97 L450.85,193.60 L451.50,200.00 L451.88,206.25 L452.95,212.50 L453.26,218.75 L453.55,225.00 L454.85,231.25 L455.17,237.50 L456.02,243.75 L456.53,250.00 L457.05,256.37 L457.69,262.90 L458.76,269.51 L459.17,276.08 L459.88,282.51 L460.48,288.71 L460.93,294.57 L461.78,300.00 L461.87,303.56 L462.43,306.93 L463.20,310.14 L463.61,313.22 L464.05,316.22 L464.04,319.16 L464.20,322.07 L464.69,325.00 L465.46,327.59 L465.85,330.12 L465.99,332.60 L466.26,335.06 L466.67,337.49 L467.33,339.92 L467.33,342.35 L467.22,344.80 L467.79,347.24 L468.19,349.68 L468.42,352.13 L468.54,354.57 L468.73,357.00 L469.18,359.42 L469.66,361.82 L470.18,364.20 L470.64,366.48 L471.00,368.75 L470.96,371.02 L471.27,373.27 L471.95,375.50 L472.30,377.70 L472.52,379.87 L473.25,382.00 L473.93,383.92 L474.00,385.84 L474.04,387.76 L474.36,389.64 L474.72,391.48 L475.23,393.24 L475.82,394.92 L476.46,396.50 L477.00,397.65 L477.58,398.75 L478.11,399.79 L478.54,400.80 L478.97,401.77 L479.39,402.70 L479.83,403.61 L480.26,404.50 L480.57,405.16 L480.89,405.78 L481.20,406.37 L481.61,406.95 L482.02,407.53 L482.42,408.12 L482.80,408.74 L483.16,409.40 L483.50,410.29 L483.67,411.34 L483.79,412.46 L483.91,413.58 L484.04,414.62 L484.22,415.51 L484.46,416.16 L484.81,416.50 L485.13,416.51 L485.51,416.35 L485.93,416.05 L486.31,415.66 L486.69,415.24 L487.06,414.83 L487.43,414.46 L487.78,414.20 L488.05,414.08 L488.33,414.00 L488.60,413.96 L488.89,413.93 L489.20,413.87 L489.50,413.78 L489.79,413.63 L490.06,413.40 L490.58,412.57 L491.00,411.37 L491.28,409.89 L491.46,408.21 L491.68,406.43 L492.03,404.63 L492.37,402.89 L492.56,401.30 L492.79,399.89 L493.05,398.51 L493.36,397.15 L493.67,395.79 L494.06,394.41 L494.50,393.00 L494.95,391.53 L495.31,390.00 L495.72,387.98 L495.95,385.84 L496.07,383.62 L496.14,381.35 L496.28,379.06 L496.86,376.76 L497.28,374.50 L497.49,372.30 L497.91,370.23 L498.48,368.16 L498.78,366.09 L498.96,364.04 L499.29,362.01 L499.64,360.01 L499.88,358.03 L500.09,356.10 L500.26,354.44 L500.41,352.86 L500.59,351.32 L500.91,349.80 L501.22,348.25 L501.44,346.66 L501.61,344.98 L501.73,343.20 L501.70,340.61 L501.83,337.83 L502.11,334.92 L502.56,331.91 L502.98,328.87 L503.15,325.83 L503.35,322.86 L503.86,320.00 L504.32,317.49 L504.66,315.11 L504.74,312.79 L505.28,310.47 L506.08,308.10 L506.37,305.60 L506.59,302.93 L506.73,300.00 L507.28,294.83 L507.82,289.09 L508.64,282.91 L509.02,276.41 L509.62,269.74 L509.87,263.03 L510.17,256.40 L511.27,250.00 L512.03,243.75 L512.63,237.50 L513.09,231.25 L513.74,225.00 L513.96,218.75 L514.56,212.50 L515.44,206.25 L516.05,200.00 L516.69,193.59 L517.29,186.97 L518.07,180.26 L518.68,173.59 L519.74,167.10 L519.92,160.91 L520.76,155.17 L521.59,150.00 L522.05,147.05 L522.46,144.30 L522.36,141.71 L522.62,139.26 L523.04,136.89 L523.50,134.59 L523.81,132.30 L523.75,130.00 L523.86,128.02 L524.14,126.10 L524.48,124.22 L524.92,122.36 L525.26,120.53 L525.39,118.70 L525.53,116.86 L525.71,115.00 L525.89,113.11 L526.19,111.21 L526.50,109.30 L526.88,107.39 L527.28,105.50 L527.52,103.63 L527.75,101.79 L527.90,100.00 L528.01,98.42 L528.19,96.87 L528.50,95.35 L528.81,93.84 L529.32,92.35 L529.91,90.89 L530.48,89.44 L530.74,88.00 L530.98,86.69 L531.21,85.39 L531.37,84.10 L531.54,82.82 L531.74,81.57 L532.26,80.34 L532.78,79.15 L533.30,78.00 L533.46,77.04 L533.57,76.08 L533.68,75.14 L533.81,74.22 L534.14,73.33 L534.53,72.49 L534.93,71.71 L535.32,71.00 L535.60,70.55 L535.88,70.12 L536.17,69.72 L536.45,69.35 L536.75,68.99 L537.05,68.65 L537.36,68.32 L537.69,68.00 L538.02,67.70 L538.35,67.42 L538.68,67.15 L538.98,66.89 L539.28,66.64 L539.60,66.41 L539.92,66.20 L540.25,66.00 L540.59,65.82 L540.94,65.65 L541.30,65.49 L541.66,65.34 L542.03,65.22 L542.37,65.12 L542.72,65.05 L543.07,65.00 L543.40,64.99 L543.75,65.00 L544.10,65.03 L544.44,65.09 L544.79,65.17 L545.12,65.27 L545.45,65.38 L545.85,65.50 L546.24,65.63 L546.62,65.78 L547.00,65.94 L547.37,66.12 L547.73,66.31 L548.08,66.52 L548.42,66.75 L548.75,67.00 L549.12,67.29 L549.44,67.60 L549.69,67.92 L549.93,68.27 L550.15,68.65 L550.37,69.06 L550.57,69.51 L550.76,70.00 L551.02,70.94 L551.37,72.01 L551.70,73.20 L551.99,74.48 L552.23,75.82 L552.43,77.21 L552.64,78.61 L552.73,80.00 L552.82,81.71 L553.00,83.48 L553.36,85.30 L553.68,87.17 L553.87,89.08 L554.09,91.02 L554.51,93.00 L554.89,95.00 L555.08,97.32 L555.27,99.67 L555.48,102.04 L555.75,104.47 L556.04,106.96 L556.40,109.54 L556.42,112.21 L556.28,115.00 L556.61,118.87 L557.41,122.92 L557.74,127.14 L557.90,131.50 L558.22,135.99 L558.78,140.59 L559.35,145.26 L559.60,150.00 L559.92,155.81 L560.72,161.82 L561.14,168.00 L562.24,174.30 L562.40,180.69 L563.44,187.12 L564.45,193.57 L565.15,200.00 L565.67,206.79 L566.35,213.69 L567.24,220.68 L567.96,227.68 L568.53,234.67 L569.00,241.58 L569.94,248.37 L570.75,255.00 L571.11,260.90 L572.08,266.75 L572.81,272.55 L573.20,278.27 L573.71,283.90 L574.81,289.41 L575.37,294.78 L575.98,300.00 L576.60,304.29 L577.08,308.51 L577.27,312.66 L577.76,316.71 L578.54,320.66 L578.80,324.50 L579.45,328.22 L579.87,331.80 L580.10,334.50 L580.35,337.06 L580.74,339.53 L581.05,341.94 L581.19,344.32 L581.53,346.72 L582.01,349.17 L582.40,351.70 L582.71,354.57 L582.94,357.54 L583.51,360.56 L584.04,363.60 L584.75,366.62 L585.49,369.58 L585.77,372.46 L586.02,375.20 L586.35,377.43 L587.06,379.64 L587.41,381.82 L587.39,383.95 L587.66,386.00 L588.10,387.96 L588.54,389.80 L588.96,391.50 L589.24,392.56 L589.46,393.54 L589.67,394.46 L589.89,395.34 L590.10,396.20 L590.29,397.05 L590.46,397.91 L590.63,398.80 L590.79,399.74 L590.97,400.72 L591.24,401.72 L591.50,402.71 L591.78,403.66 L592.05,404.55 L592.26,405.34 L592.53,406.00 L592.73,406.35 L592.94,406.67 L593.16,406.95 L593.40,407.20 L593.64,407.43 L593.91,407.64 L594.21,407.83 L594.53,408.00 L594.83,408.14 L595.15,408.26 L595.48,408.35 L595.81,408.42 L596.04,408.49 L596.36,408.55 L596.68,408.62 L597.00,408.70" stroke="#2152a6" stroke-width="2.5" fill="none" stroke-linejoin="round"/>
<path d="M53.50,465.00 L53.88,461.83 L54.01,458.60 L53.72,455.35 L53.30,452.10 L53.39,448.91 L53.98,445.80 L54.15,442.82 L54.20,440.00 L54.26,437.92 L54.27,435.91 L54.23,433.96 L54.34,432.07 L54.60,430.23 L54.82,428.45 L54.96,426.70 L55.10,425.00 L55.21,423.65 L55.32,422.36 L55.44,421.10 L55.45,419.87 L55.46,418.66 L55.47,417.45 L55.62,416.24 L55.82,415.00 L56.02,413.75 L56.18,412.50 L56.30,411.25 L56.41,410.00 L56.56,408.75 L56.77,407.50 L56.99,406.25 L57.21,405.00 L57.41,403.76 L57.60,402.52 L57.80,401.29 L57.91,400.06 L58.02,398.82 L58.13,397.56 L58.18,396.29 L58.20,395.00 L58.25,393.56 L58.39,392.09 L58.56,390.60 L58.74,389.10 L58.89,387.59 L59.02,386.06 L59.12,384.53 L59.17,383.00 L59.19,381.42 L59.25,379.86 L59.29,378.29 L59.38,376.71 L59.55,375.10 L59.73,373.46 L59.70,371.76 L59.66,370.00 L59.68,367.71 L59.72,365.30 L60.00,362.81 L60.08,360.27 L59.86,357.69 L59.84,355.10 L59.79,352.53 L59.61,350.00 L59.49,347.55 L59.40,345.16 L59.57,342.80 L59.66,340.43 L59.58,338.00 L59.73,335.48 L60.01,332.83 L60.37,330.00 L60.29,325.66 L60.00,320.96 L60.72,316.00 L60.80,310.86 L61.10,305.60 L61.18,300.32 L61.16,295.09 L61.64,290.00 L61.83,285.03 L61.48,280.10 L61.99,275.19 L61.96,270.28 L62.14,265.32 L62.40,260.31 L62.72,255.21 L63.05,250.00 L63.17,244.01 L63.90,237.89 L63.98,231.66 L64.81,225.35 L64.98,218.99 L65.15,212.63 L65.96,206.29 L66.24,200.00 L66.55,193.55 L67.22,186.81 L68.01,179.97 L68.16,173.17 L68.72,166.61 L69.05,160.44 L69.21,154.85 L69.78,150.00 L70.16,147.72 L70.51,145.68 L70.54,143.83 L70.56,142.09 L70.51,140.40 L70.44,138.70 L70.58,136.92 L71.06,135.00 L71.46,132.60 L71.61,130.08 L71.91,127.49 L72.07,124.86 L71.86,122.25 L72.24,119.71 L72.64,117.28 L72.50,115.00 L72.51,113.36 L72.87,111.79 L73.22,110.29 L73.37,108.84 L73.41,107.40 L73.45,105.96 L73.59,104.50 L73.77,103.00 L74.03,101.40 L74.50,99.79 L74.99,98.17 L75.07,96.54 L75.05,94.91 L75.19,93.28 L75.61,91.64 L76.01,90.00 L76.39,88.31 L76.76,86.59 L76.89,84.86 L76.89,83.12 L76.98,81.41 L77.22,79.74 L77.46,78.13 L77.96,76.60 L78.37,75.41 L78.78,74.23 L78.92,73.08 L79.03,71.96 L79.17,70.88 L79.38,69.86 L79.72,68.89 L80.08,68.00 L80.34,67.39 L80.60,66.80 L80.82,66.24 L80.95,65.70 L81.11,65.20 L81.29,64.74 L81.51,64.34 L81.76,64.00 L81.98,63.77 L82.23,63.57 L82.49,63.40 L82.83,63.26 L83.20,63.15 L83.57,63.07 L83.94,63.02 L84.30,63.00 L84.69,63.02 L85.08,63.07 L85.49,63.16 L85.89,63.29 L86.29,63.44 L86.68,63.61 L87.02,63.80 L87.34,64.00 L87.67,64.23 L87.99,64.48 L88.29,64.76 L88.59,65.05 L88.88,65.38 L89.16,65.72 L89.43,66.10 L89.74,66.50 L90.20,67.09 L90.63,67.74 L91.05,68.43 L91.46,69.18 L91.82,69.96 L92.01,70.80 L92.18,71.68 L92.36,72.60 L92.78,74.10 L93.54,75.74 L94.28,77.50 L94.29,79.35 L94.27,81.27 L94.96,83.24 L95.68,85.22 L95.79,87.20 L96.00,89.59 L96.67,92.14 L97.49,94.79 L98.25,97.46 L98.39,100.08 L98.76,102.60 L99.23,104.92 L99.86,107.00 L100.20,108.13 L100.43,109.11 L100.52,110.01 L100.61,110.86 L100.69,111.74 L100.76,112.68 L100.84,113.75 L100.92,115.00 L101.54,118.15 L102.35,121.86 L102.33,126.03 L102.96,130.56 L103.86,135.33 L104.62,140.23 L104.66,145.15 L105.25,150.00 L105.98,155.81 L106.87,161.82 L107.52,167.99 L107.98,174.29 L108.40,180.69 L108.61,187.13 L109.42,193.58 L109.65,200.00 L110.93,206.79 L111.35,213.70 L112.29,220.68 L112.94,227.68 L114.08,234.66 L114.92,241.57 L115.26,248.37 L116.06,255.00 L116.40,260.90 L116.91,266.77 L117.36,272.60 L118.04,278.35 L118.77,283.99 L119.10,289.50 L119.00,294.84 L119.44,300.00 L119.67,304.10 L120.33,308.11 L120.74,312.04 L121.27,315.87 L121.60,319.59 L121.67,323.19 L122.19,326.67 L122.79,330.00 L123.15,332.48 L123.34,334.85 L123.77,337.14 L124.30,339.35 L124.99,341.52 L125.61,343.67 L125.92,345.82 L126.36,348.00 L127.00,350.06 L127.36,352.11 L127.42,354.14 L127.55,356.16 L127.75,358.17 L128.02,360.18 L128.36,362.19 L128.73,364.20 L129.12,366.23 L129.51,368.28 L129.91,370.33 L130.43,372.37 L130.99,374.40 L131.43,376.41 L131.84,378.38 L132.21,380.30 L132.53,382.00 L132.96,383.68 L133.46,385.34 L133.88,386.97 L134.11,388.58 L134.36,390.16 L134.98,391.70 L135.70,393.20 L136.32,394.51 L136.83,395.82 L137.36,397.10 L137.87,398.35 L138.33,399.57 L138.78,400.74 L139.21,401.85 L139.61,402.90 L139.89,403.63 L140.15,404.32 L140.41,404.99 L140.70,405.63 L141.02,406.25 L141.33,406.84 L141.66,407.43 L141.99,408.00 L142.29,408.52 L142.59,409.08 L142.89,409.64 L143.20,410.18 L143.51,410.67 L143.82,411.07 L144.14,411.36 L144.46,411.50 L144.72,411.50 L144.99,411.42 L145.23,411.28 L145.46,411.08 L145.68,410.84 L145.90,410.58 L146.12,410.29 L146.32,410.00 L146.62,409.51 L146.90,408.95 L147.18,408.32 L147.58,407.63 L147.97,406.90 L148.37,406.12 L148.76,405.32 L149.13,404.50 L149.60,403.31 L150.05,402.03 L150.47,400.67 L150.75,399.25 L151.03,397.78 L151.34,396.28 L151.69,394.75 L152.03,393.20 L152.78,391.32 L153.52,389.36 L153.76,387.35 L153.97,385.29 L154.44,383.21 L154.92,381.12 L155.48,379.04 L155.94,377.00 L156.14,375.00 L156.33,373.00 L156.50,371.00 L156.80,369.01 L157.41,367.01 L157.81,365.01 L157.81,363.01 L157.83,361.00 L157.91,358.99 L158.14,357.00 L158.65,355.01 L158.94,353.01 L158.87,351.00 L158.94,348.97 L159.25,346.90 L159.64,344.80 L160.19,342.44 L160.48,340.04 L160.64,337.62 L160.57,335.17 L160.78,332.68 L161.33,330.16 L161.63,327.60 L161.94,325.00 L162.33,322.06 L162.50,319.13 L162.93,316.16 L163.38,313.14 L163.38,310.04 L163.90,306.83 L164.37,303.49 L165.05,300.00 L165.23,295.03 L166.17,289.78 L166.43,284.28 L167.04,278.60 L167.77,272.78 L168.27,266.87 L168.61,260.93 L169.23,255.00 L170.58,248.37 L171.54,241.57 L171.63,234.66 L173.11,227.68 L173.87,220.68 L174.51,213.70 L175.69,206.79 L176.15,200.00 L177.01,193.48 L177.85,186.81 L178.57,180.09 L178.68,173.45 L179.49,167.00 L179.96,160.86 L180.81,155.16 L181.50,150.00 L181.60,147.06 L182.04,144.35 L182.20,141.81 L182.09,139.39 L182.42,137.05 L182.86,134.74 L183.48,132.40 L183.74,130.00 L183.56,127.63 L183.85,125.27 L184.23,122.91 L184.32,120.57 L184.49,118.24 L184.78,115.93 L185.34,113.65 L186.03,111.40 L186.35,109.33 L186.65,107.26 L186.75,105.20 L186.85,103.17 L186.87,101.17 L186.90,99.22 L187.21,97.33 L187.51,95.50 L187.67,94.07 L187.82,92.68 L187.97,91.34 L188.26,90.02 L188.54,88.73 L188.83,87.45 L188.99,86.18 L189.16,84.90 L189.32,83.71 L189.42,82.53 L189.50,81.36 L189.59,80.21 L189.71,79.06 L189.90,77.91 L190.10,76.76 L190.32,75.60 L190.41,74.38 L190.47,73.09 L190.52,71.76 L190.81,70.46 L191.16,69.21 L191.55,68.07 L191.98,67.09 L192.47,66.30 L192.80,65.96 L193.17,65.71 L193.56,65.52 L193.96,65.37 L194.36,65.21 L194.75,65.04 L195.08,64.81 L195.37,64.50 L195.73,63.89 L196.04,63.16 L196.30,62.32 L196.53,61.42 L196.66,60.51 L196.80,59.61 L196.96,58.76 L197.17,58.00 L197.47,57.39 L197.82,56.75 L198.18,56.10 L198.55,55.48 L198.92,54.93 L199.30,54.47 L199.67,54.15 L200.04,54.00 L200.40,54.02 L200.78,54.19 L201.18,54.46 L201.59,54.81 L202.00,55.22 L202.42,55.66 L202.82,56.09 L203.13,56.50 L203.50,56.97 L203.86,57.45 L204.23,57.96 L204.58,58.49 L204.92,59.06 L205.42,59.66 L205.91,60.31 L206.40,61.00 L207.06,62.08 L207.55,63.27 L207.85,64.55 L208.12,65.90 L208.51,67.31 L208.97,68.74 L209.42,70.18 L209.69,71.60 L209.97,73.17 L210.34,74.78 L210.90,76.41 L211.45,78.07 L211.69,79.75 L211.91,81.45 L212.12,83.17 L212.32,84.90 L212.48,86.85 L212.55,88.87 L212.77,90.94 L213.15,93.03 L213.34,95.09 L213.39,97.10 L213.68,99.01 L214.15,100.80 L214.48,102.05 L214.73,103.19 L214.98,104.28 L215.23,105.33 L215.35,106.40 L215.34,107.51 L215.32,108.70 L215.33,110.00 L215.72,112.13 L216.06,114.46 L216.26,116.93 L216.43,119.52 L216.63,122.16 L217.01,124.82 L217.37,127.45 L217.68,130.00 L217.75,132.44 L217.82,134.79 L217.89,137.11 L218.24,139.44 L218.66,141.84 L218.52,144.37 L218.71,147.07 L219.21,150.00 L219.68,155.16 L220.39,160.86 L220.61,167.00 L221.33,173.44 L222.45,180.09 L222.76,186.80 L223.50,193.48 L224.49,200.00 L225.06,206.79 L225.19,213.70 L226.44,220.68 L227.13,227.68 L227.62,234.67 L228.49,241.58 L228.72,248.37 L229.75,255.00 L230.00,260.93 L230.96,266.88 L231.75,272.79 L232.26,278.61 L233.11,284.29 L233.69,289.78 L234.53,295.03 L234.77,300.00 L234.98,303.49 L235.56,306.81 L236.23,309.99 L236.78,313.07 L236.99,316.08 L237.35,319.05 L237.62,322.01 L237.80,325.00 L238.21,327.79 L238.38,330.59 L238.48,333.37 L238.71,336.12 L239.08,338.82 L239.35,341.46 L239.34,344.03 L239.60,346.50 L239.86,348.45 L240.38,350.31 L240.90,352.12 L241.01,353.89 L241.02,355.64 L241.30,357.39 L241.80,359.17 L242.23,361.00 L242.53,362.99 L242.75,365.04 L242.85,367.13 L243.09,369.21 L243.52,371.27 L243.93,373.27 L244.34,375.19 L244.77,377.00 L245.15,378.38 L245.54,379.72 L245.78,381.03 L245.97,382.29 L246.18,383.51 L246.54,384.67 L246.97,385.77 L247.39,386.80" stroke="#ea2229" stroke-width="2.7" fill="none" stroke-dasharray="16 4" stroke-linejoin="round"/>
<path d="M247.39,386.80 L247.68,387.51 L248.00,388.21 L248.31,388.89 L248.63,389.53 L248.95,390.13 L249.29,390.68 L249.64,391.17 L250.00,391.60 L250.27,391.86 L250.54,392.10 L250.82,392.30 L251.10,392.48 L251.40,392.63 L251.73,392.77" stroke="#ea2229" stroke-width="2.7" fill="none" stroke-linejoin="round"/>
<path d="M256.26,393.11 L257.10,393.06 L257.91,393.02 L258.69,393.00 L259.47,393.04 L260.28,393.13 L261.19,393.24 L262.17,393.34 L263.12,393.39 L264.00,393.38 L264.80,393.26 L265.49,393.00" stroke="#ea2229" stroke-width="2.7" fill="none" stroke-linejoin="round"/>
<path d="M265.49,393.00 L265.99,392.65 L266.42,392.21 L266.79,391.70 L267.12,391.12 L267.42,390.49 L267.69,389.82 L267.83,389.12 L268.00,388.40 L268.26,387.22 L268.56,385.88 L269.04,384.43 L269.52,382.91 L269.91,381.37 L270.24,379.84 L270.56,378.37 L270.91,377.00 L271.18,375.96 L271.43,374.97 L271.71,374.03 L272.00,373.09 L272.29,372.15 L272.58,371.17 L272.76,370.13 L272.82,369.00 L272.90,367.25 L273.25,365.33 L273.72,363.29 L274.02,361.18 L274.23,359.05 L274.53,356.94 L274.81,354.91 L275.19,353.00 L275.47,351.51 L275.52,350.10 L275.37,348.75 L275.22,347.41 L275.34,346.06 L275.67,344.66 L276.02,343.19 L276.04,341.60 L275.94,339.22 L276.27,336.66 L276.63,333.96 L276.93,331.18 L277.07,328.34 L277.15,325.50 L277.23,322.71 L277.70,320.00 L277.75,317.52 L277.51,315.13 L277.89,312.79 L278.25,310.45 L278.29,308.05 L278.46,305.54 L278.77,302.87 L279.24,300.00 L279.76,295.27 L280.12,290.12 L280.52,284.64 L281.39,278.91 L281.95,273.00 L283.25,266.99 L283.59,260.97 L284.09,255.00 L284.67,248.37 L285.18,241.58 L285.71,234.67 L286.33,227.68 L287.42,220.67 L287.63,213.69 L288.48,206.78 L288.47,200.00 L289.18,193.50 L290.23,186.88 L290.69,180.23 L291.55,173.65 L292.50,167.24 L292.92,161.09 L293.84,155.31 L294.27,150.00 L294.94,146.69 L295.31,143.58 L295.37,140.64 L295.72,137.83 L296.19,135.10 L296.68,132.41 L296.95,129.72 L297.22,127.00 L297.56,124.45 L297.95,121.90 L298.35,119.36 L298.73,116.85 L299.02,114.39 L299.27,112.00 L299.72,109.70 L300.03,107.50 L300.03,105.85 L300.04,104.28 L300.38,102.75 L300.74,101.27 L301.07,99.82 L301.33,98.38 L301.60,96.94 L301.80,95.50 L301.94,94.14 L302.08,92.79 L302.29,91.44 L302.53,90.11 L302.77,88.79 L302.97,87.48 L303.14,86.19 L303.33,84.90 L303.69,83.70 L304.14,82.49 L304.60,81.30 L304.91,80.11 L305.00,78.94 L305.10,77.80 L305.20,76.68 L305.50,75.60 L305.76,74.71 L306.02,73.84 L306.29,73.00 L306.60,72.18 L306.93,71.36 L307.27,70.55 L307.61,69.73 L307.94,68.90 L308.06,68.01 L308.16,67.08 L308.25,66.14 L308.35,65.20 L308.77,64.29 L309.25,63.44 L309.76,62.67 L310.31,62.00 L310.78,61.54 L311.07,61.11 L311.39,60.70 L311.73,60.33 L312.09,60.02 L312.45,59.77 L312.83,59.59 L313.20,59.50 L313.60,59.49 L314.05,59.55 L314.51,59.68 L314.97,59.86 L315.42,60.08 L315.85,60.36 L316.24,60.66 L316.58,61.00 L316.96,61.47 L317.30,62.03 L317.58,62.66 L317.84,63.34 L318.08,64.07 L318.32,64.81 L318.53,65.56 L318.77,66.30 L319.09,67.20 L319.43,68.11 L319.82,69.05 L320.31,70.01 L320.79,71.00 L321.27,72.03 L321.66,73.09 L321.96,74.20 L322.32,75.69 L322.65,77.27 L322.94,78.92 L323.21,80.62 L323.39,82.35 L323.57,84.09 L323.89,85.81 L324.22,87.50 L324.45,89.18 L324.60,90.88 L324.84,92.59 L325.32,94.30 L325.79,95.99 L325.88,97.65 L325.95,99.25 L326.08,100.80 L326.24,102.01 L326.38,103.14 L326.55,104.22 L326.80,105.28 L327.05,106.37 L327.31,107.49 L327.45,108.69 L327.50,110.00 L327.61,112.13 L328.06,114.46 L328.63,116.94 L329.38,119.52 L329.37,122.16 L329.45,124.82 L329.84,127.45 L330.21,130.00 L330.54,132.44 L330.82,134.79 L331.13,137.10 L331.46,139.43 L331.62,141.84 L331.81,144.37 L332.14,147.07 L332.41,150.00 L332.92,155.16 L333.79,160.86 L334.32,167.00 L335.06,173.44 L335.65,180.09 L336.58,186.80 L337.25,193.48 L338.07,200.00 L338.62,206.79 L339.58,213.69 L340.25,220.68 L340.77,227.68 L341.67,234.66 L342.41,241.58 L343.08,248.37 L343.73,255.00 L344.78,260.93 L345.30,266.88 L345.59,272.78 L346.31,278.60 L346.55,284.29 L347.80,289.78 L347.86,295.03 L349.02,300.00 L349.29,303.49 L349.80,306.83 L349.55,310.04 L349.90,313.14 L350.48,316.16 L351.00,319.13 L350.81,322.07 L351.11,325.00 L351.52,327.60 L352.00,330.16 L352.27,332.68 L352.53,335.17 L352.84,337.62 L353.33,340.04 L353.90,342.43 L353.84,344.80 L353.92,346.92 L354.48,349.03 L354.82,351.12 L354.77,353.19 L354.69,355.22 L354.55,357.20 L354.71,359.13 L355.30,361.00 L355.77,362.52 L355.80,364.00 L355.85,365.44 L356.05,366.85 L356.43,368.24 L356.84,369.60 L357.23,370.95 L357.62,372.30 L358.01,373.55 L358.33,374.79 L358.61,376.01 L358.91,377.22 L359.33,378.41 L359.87,379.58 L360.40,380.75 L360.87,381.90 L361.15,382.98 L361.43,384.08 L361.72,385.18 L362.14,386.26" stroke="#ea2229" stroke-width="2.7" fill="none" stroke-dasharray="16 4" stroke-linejoin="round"/>
<path d="M362.14,386.26 L362.58,387.30 L363.02,388.28 L363.47,389.19 L364.00,390.00 L364.31,390.47 L364.58,390.92 L364.83,391.35 L365.09,391.75 L365.36,392.12 L365.67,392.45 L366.00,392.75 L366.36,393.00 L367.12,393.28 L368.06,393.41 L369.15,393.43 L370.29,393.37 L371.47,393.26 L372.66,393.14 L373.88,393.04 L375.08,393.00 L376.25,393.05 L377.50,393.18 L378.79,393.34 L380.05,393.49 L381.24,393.57 L382.17,393.55 L382.90,393.37 L383.44,393.00" stroke="#ea2229" stroke-width="2.7" fill="none" stroke-linejoin="round"/>
<path d="M383.44,393.00 L383.72,392.52 L383.85,391.91 L383.94,391.21 L384.03,390.42 L384.08,389.57 L384.13,388.67 L384.21,387.74 L384.23,386.80 L384.28,385.28 L384.32,383.62 L384.50,381.84 L384.69,379.98 L384.88,378.06 L385.09,376.12 L385.35,374.19 L385.63,372.30 L385.86,370.30 L386.08,368.27 L386.43,366.21 L386.82,364.14 L387.22,362.08 L387.61,360.04 L388.01,358.04 L388.40,356.10 L388.71,354.43 L389.02,352.83 L389.29,351.26 L389.51,349.70 L389.72,348.14 L389.85,346.55 L389.96,344.91 L390.06,343.20 L390.15,341.10 L390.37,338.94 L390.73,336.73 L390.70,334.48 L390.45,332.18 L390.54,329.83 L390.77,327.43 L391.33,325.00 L391.60,322.11 L391.63,319.20 L391.53,316.23 L391.82,313.20 L392.04,310.08 L392.27,306.85 L392.63,303.50 L392.93,300.00 L393.51,295.03 L394.37,289.78 L394.82,284.28 L395.37,278.60 L396.36,272.79 L397.09,266.88 L397.69,260.93 L398.37,255.00 L398.40,248.37 L399.22,241.58 L399.82,234.67 L400.59,227.68 L401.21,220.67 L401.60,213.69 L402.03,206.78 L403.09,200.00 L403.63,193.48 L403.91,186.80 L404.79,180.08 L405.95,173.44 L406.74,166.99 L407.91,160.86 L408.38,155.16 L408.65,150.00 L408.91,147.06 L409.24,144.35 L409.85,141.81 L410.17,139.39 L410.34,137.05 L410.38,134.73 L410.58,132.40 L411.23,130.00 L411.60,127.62 L411.80,125.22 L412.11,122.83 L412.47,120.46 L412.88,118.11 L413.36,115.81 L413.87,113.57 L414.09,111.40 L414.19,109.64 L414.41,107.95 L414.64,106.29 L414.74,104.66 L414.68,103.05 L414.63,101.45 L414.97,99.84 L415.37,98.20 L415.61,96.52 L415.68,94.82 L415.82,93.11 L416.32,91.40 L416.82,89.71 L416.91,88.05 L416.92,86.45 L417.06,84.90 L417.33,83.64 L417.62,82.42 L417.92,81.22 L418.23,80.04 L418.55,78.90 L418.86,77.77 L419.07,76.68 L419.26,75.60 L419.41,74.72 L419.55,73.86 L419.73,73.01 L419.91,72.19 L420.09,71.37 L420.27,70.57 L420.45,69.78 L420.70,69.00 L420.92,68.30 L421.15,67.60 L421.37,66.92 L421.60,66.25 L421.74,65.58 L421.81,64.92 L421.89,64.26 L421.99,63.60 L422.08,62.89 L422.16,62.10 L422.49,61.29 L422.83,60.49 L423.18,59.76 L423.53,59.15 L423.89,58.72 L424.24,58.50 L424.47,58.49 L424.70,58.58 L424.94,58.74 L425.19,58.95 L425.45,59.20 L425.70,59.48 L425.95,59.75 L426.20,60.00 L426.50,60.32 L426.80,60.66 L427.10,61.04 L427.41,61.43 L427.73,61.83 L428.05,62.23 L428.39,62.62 L428.73,63.00 L429.09,63.38 L429.48,63.77 L429.86,64.15 L430.20,64.53 L430.55,64.90 L430.89,65.27 L431.22,65.64 L431.55,66.00 L431.85,66.32 L432.15,66.62 L432.46,66.91 L432.80,67.21 L433.12,67.51 L433.43,67.82 L433.71,68.15 L433.96,68.50 L434.18,68.88 L434.36,69.27 L434.53,69.67 L434.67,70.09 L434.78,70.53 L434.89,70.99 L435.00,71.48 L435.11,72.00 L435.26,72.85 L435.40,73.79 L435.55,74.80 L435.71,75.86 L435.87,76.94 L436.01,78.00 L436.09,79.03 L436.17,80.00 L436.26,80.78 L436.35,81.51 L436.45,82.22 L436.57,82.92 L436.68,83.63 L436.80,84.37 L436.91,85.15 L437.03,86.00 L437.28,87.32 L437.53,88.75 L437.72,90.27 L437.76,91.85 L437.81,93.45 L438.03,95.07 L438.30,96.66 L438.58,98.20 L438.83,99.67 L439.10,101.09 L439.32,102.50 L439.50,103.92 L439.68,105.36 L439.88,106.83 L440.09,108.38 L440.34,110.00 L440.87,112.25 L441.36,114.63 L441.79,117.11 L441.80,119.67 L441.88,122.27 L442.41,124.88 L442.80,127.47 L443.17,130.00 L443.64,132.44 L443.98,134.79 L444.24,137.10 L444.43,139.44 L444.63,141.84 L444.96,144.36 L445.59,147.07 L446.21,150.00 L446.35,155.17 L447.62,160.91 L447.83,167.09 L448.60,173.59 L449.62,180.26 L450.12,186.97 L450.91,193.59 L451.34,200.00 L452.18,206.25 L452.56,212.50 L453.48,218.75 L453.72,225.00 L454.95,231.25 L455.41,237.50 L456.15,243.75 L456.75,250.00 L457.11,256.37 L458.43,262.91 L458.63,269.51 L459.87,276.08 L460.44,282.51 L461.05,288.71 L461.50,294.57 L462.02,300.00 L462.88,303.56 L463.09,306.93 L463.54,310.15 L464.11,313.25 L464.33,316.25 L464.73,319.19 L465.33,322.10 L465.81,325.00 L465.78,327.51 L466.01,329.96 L466.32,332.36 L466.53,334.73 L466.72,337.06 L466.89,339.38 L467.11,341.69 L467.35,344.00 L467.71,346.19 L468.05,348.40 L468.36,350.60 L468.49,352.78 L468.32,354.93 L468.54,357.02 L469.16,359.05 L469.54,361.00 L469.69,362.54 L469.86,364.04 L469.94,365.50 L470.04,366.93 L470.29,368.32 L470.82,369.68 L471.35,371.00 L471.75,372.30 L471.95,373.37 L472.15,374.41 L472.36,375.41 L472.66,376.40 L472.98,377.37 L473.32,378.34 L473.67,379.31 L473.92,380.30 L474.19,381.34 L474.47,382.43 L474.84,383.52 L475.36,384.61 L475.89,385.66 L476.42,386.66 L476.88,387.58" stroke="#ea2229" stroke-width="2.7" fill="none" stroke-dasharray="16 4" stroke-linejoin="round"/>
<path d="M476.88,387.58 L477.31,388.40 L477.61,388.90 L477.91,389.37 L478.21,389.80 L478.51,390.21 L478.83,390.59 L479.17,390.95 L479.49,391.29 L479.82,391.60 L480.05,391.82 L480.27,392.03 L480.47,392.23 L480.68,392.42 L480.90,392.58 L481.15,392.74 L481.43,392.88 L481.75,393.00" stroke="#ea2229" stroke-width="2.7" fill="none" stroke-linejoin="round"/>
<path d="M484.19,393.25 L485.21,393.21 L486.33,393.15 L487.48,393.08 L488.62,393.02 L489.68,393.00 L490.74,393.05 L491.85,393.18 L492.99,393.34 L494.06,393.49 L495.01,393.57 L495.87,393.55 L496.63,393.38 L497.24,393.00 L497.71,392.40" stroke="#ea2229" stroke-width="2.7" fill="none" stroke-linejoin="round"/>
<path d="M497.71,392.40 L498.01,391.60 L498.19,390.66 L498.27,389.60 L498.44,388.49 L498.61,387.35 L498.79,386.24 L498.96,385.20 L499.02,384.20 L499.07,383.21 L499.12,382.22 L499.17,381.23 L499.28,380.22 L499.38,379.19 L499.48,378.11 L499.60,377.00 L499.77,375.53 L499.93,373.98 L500.08,372.37 L500.24,370.73 L500.39,369.06 L500.52,367.41 L500.66,365.78 L500.81,364.20 L500.98,362.75 L501.19,361.30 L501.48,359.87 L501.78,358.45 L501.94,357.04 L501.89,355.65 L501.84,354.27 L502.02,352.90 L502.35,351.67 L502.67,350.49 L502.92,349.34 L503.00,348.20 L503.08,347.03 L503.15,345.82 L503.51,344.56 L503.87,343.20 L504.25,341.22 L504.35,339.12 L504.41,336.92 L504.44,334.64 L504.63,332.29 L504.91,329.89 L505.30,327.45 L505.61,325.00 L505.77,322.12 L506.34,319.23 L506.57,316.29 L506.58,313.29 L506.89,310.18 L507.62,306.95 L507.89,303.56 L507.87,300.00 L508.61,294.57 L508.90,288.71 L509.42,282.51 L509.99,276.07 L510.17,269.50 L510.28,262.90 L511.06,256.37 L511.08,250.00 L512.36,243.75 L512.78,237.50 L512.93,231.24 L513.76,224.99 L514.27,218.74 L515.00,212.49 L515.25,206.25 L516.08,200.00 L517.28,193.59 L517.80,186.97 L518.52,180.26 L518.80,173.59 L520.14,167.10 L520.85,160.91 L521.69,155.17 L521.73,150.00 L522.41,147.05 L522.49,144.30 L522.66,141.71 L523.06,139.26 L523.36,136.89 L523.62,134.59 L523.82,132.30 L524.13,130.00 L524.57,128.02 L524.94,126.10 L525.23,124.22 L525.48,122.36 L525.64,120.53 L525.83,118.70 L526.23,116.86 L526.64,115.00 L526.63,113.11 L526.60,111.21 L526.99,109.30 L527.43,107.39 L527.71,105.50 L527.97,103.63 L528.20,101.79 L528.44,100.00 L528.78,98.42 L529.25,96.87 L529.74,95.35 L529.82,93.84 L529.87,92.35 L530.04,90.89 L530.46,89.44 L530.89,88.00 L531.24,86.69 L531.55,85.39 L531.86,84.10 L532.16,82.82 L532.44,81.57 L532.74,80.34 L533.11,79.15 L533.61,78.00 L534.04,77.04 L534.48,76.08 L534.76,75.14 L534.98,74.22 L535.21,73.33 L535.45,72.49 L535.72,71.71 L536.05,71.00 L536.28,70.55 L536.52,70.15 L536.76,69.78 L537.00,69.43 L537.25,69.09 L537.50,68.75 L537.75,68.39 L538.00,68.00 L538.29,67.52 L538.58,67.00 L538.87,66.47 L539.16,65.93 L539.46,65.40 L539.77,64.89 L540.10,64.42 L540.45,64.00 L540.74,63.67 L541.04,63.34 L541.36,63.01 L541.68,62.71 L542.00,62.44 L542.32,62.23 L542.68,62.08 L543.03,62.00 L543.32,62.00 L543.61,62.05 L543.91,62.14 L544.20,62.27 L544.49,62.42 L544.77,62.60 L545.04,62.80 L545.29,63.00 L545.57,63.28 L545.83,63.60 L546.05,63.96 L546.21,64.35 L546.37,64.75 L546.52,65.17 L546.67,65.59 L546.82,66.00 L547.01,66.46 L547.18,66.91 L547.36,67.37 L547.53,67.84 L547.70,68.33 L547.86,68.85 L548.02,69.40 L548.18,70.00 L548.41,71.01 L548.56,72.13 L548.68,73.32 L548.79,74.58 L549.03,75.90 L549.40,77.25 L549.78,78.62 L549.99,80.00 L550.12,81.73 L550.32,83.53 L550.74,85.40 L551.12,87.31 L551.30,89.24 L551.51,91.18 L552.11,93.10 L552.69,95.00 L553.08,96.84 L553.44,98.63 L553.59,100.39 L553.69,102.17 L553.86,103.99 L554.07,105.89 L554.23,107.88 L554.33,110.00 L554.77,113.37 L555.23,117.15 L555.62,121.21 L555.92,125.37 L556.25,129.48 L556.99,133.40 L557.69,136.96 L558.17,140.00 L558.39,141.46 L558.62,142.70 L558.84,143.81 L559.06,144.86 L559.29,145.92 L559.46,147.08 L559.56,148.41 L559.62,150.00 L560.46,154.40 L561.61,159.75 L561.98,165.84 L562.67,172.45 L563.11,179.39 L563.78,186.43 L564.56,193.37 L565.30,200.00 L565.93,206.79 L566.99,213.70 L567.37,220.68 L568.23,227.68 L569.00,234.67 L569.92,241.58 L570.20,248.37 L571.07,255.00 L571.99,260.88 L572.64,266.70 L573.08,272.45 L573.96,278.12 L574.43,283.72 L575.33,289.24 L575.56,294.66 L576.38,300.00 L577.09,304.70 L577.41,309.39 L578.10,314.04 L578.93,318.61 L579.19,323.06 L579.75,327.37 L580.34,331.49 L580.68,335.40 L581.11,338.16 L581.71,340.78 L582.27,343.28 L582.81,345.71 L583.34,348.09 L583.73,350.46 L584.05,352.85 L584.45,355.30 L584.77,357.82 L584.97,360.38 L585.10,362.96 L585.34,365.53 L585.90,368.07 L586.14,370.54 L586.35,372.93 L587.12,375.20 L587.63,376.97 L587.66,378.74 L587.69,380.47 L588.02,382.15 L588.39,383.76 L588.77,385.27 L589.16,386.65 L589.59,387.90 L589.85,388.64 L590.04,389.35 L590.24,390.02 L590.45,390.65 L590.69,391.22 L590.96,391.73 L591.34,392.16 L591.83,392.50 L592.23,392.69 L592.65,392.81 L593.10,392.88 L593.55,392.92 L594.02,392.93 L594.48,392.94 L594.95,392.96 L595.40,393.00" stroke="#ea2229" stroke-width="2.7" fill="none" stroke-dasharray="16 4" stroke-linejoin="round"/>
<g stroke="#ea2229" fill="none" stroke-linejoin="round" stroke-linecap="round">
<path d="M80.5,68 L82.5,65.2 L84.6,64.2 L87.5,65 L90.5,68.5 L92,71" stroke-width="4.2"/>
<path d="M194.5,63.5 L197,59 L200,55.5 L203,57.5 L205.5,62" stroke-width="4.2"/>
<path d="M309,62 L311,60.5 L313.5,60 L316,60.5 L317.5,62" stroke-width="4.5"/>
<path d="M127.5,352 L130,366 L132.8,380 L136,393 L140,402.5 L143.5,409" stroke-width="3.6"/>
<path d="M421.5,68 L422.5,63 L424,59.5 L425.8,61 L426.8,66" stroke-width="3.2"/>
</g>


<rect x="427.6" y="0" width="181" height="68" fill="#fff"/>
<line x1="427.6" y1="68.5" x2="597" y2="68.5" stroke="#262626" stroke-width="1"/>
<line x1="437" y1="20.4" x2="487" y2="20.4" stroke="#000" stroke-width="2.8"/>
<line x1="437" y1="38.6" x2="487" y2="38.6" stroke="#2152a6" stroke-width="2.7"/>
<line x1="437" y1="56" x2="487" y2="56" stroke="#ea2229" stroke-width="2.2" stroke-dasharray="12.8 7.4"/>
<text x="492.6" y="25" class="lg" textLength="98.6" lengthAdjust="spacingAndGlyphs">Reference signal</text>
<text x="492.6" y="43" class="lg" textLength="40.3" lengthAdjust="spacingAndGlyphs">2-DOF</text>
<text x="492.6" y="61.4" class="lg" textLength="23.0" lengthAdjust="spacingAndGlyphs">PID</text>

<text transform="translate(47.7,472.2) scale(1.08,1)" text-anchor="end" class="tk">0</text><text transform="translate(47.7,381.0) scale(1.08,1)" text-anchor="end" class="tk">4</text><text transform="translate(47.7,289.8) scale(1.08,1)" text-anchor="end" class="tk">8</text><text transform="translate(47.7,198.6) scale(1.08,1)" text-anchor="end" class="tk">12</text><text transform="translate(47.7,107.4) scale(1.08,1)" text-anchor="end" class="tk">16</text><text transform="translate(47.7,16.2) scale(1.08,1)" text-anchor="end" class="tk">20</text><text transform="translate(53.3,491.7) scale(1.08,1)" text-anchor="middle" class="tk">0</text><text transform="translate(162.1,491.7) scale(1.08,1)" text-anchor="middle" class="tk">2</text><text transform="translate(270.9,491.7) scale(1.08,1)" text-anchor="middle" class="tk">4</text><text transform="translate(379.7,491.7) scale(1.08,1)" text-anchor="middle" class="tk">6</text><text transform="translate(488.5,491.7) scale(1.08,1)" text-anchor="middle" class="tk">8</text><text transform="translate(597.3,491.7) scale(1.08,1)" text-anchor="middle" class="tk">10</text><text x="287" y="519.2" class="lb" style="font-size:25px" textLength="76.6" lengthAdjust="spacingAndGlyphs">Time [s]</text><text transform="translate(17.3,263) rotate(-90)" class="lb" textLength="50" lengthAdjust="spacingAndGlyphs">F [N]</text>
</svg>
</body></html>
